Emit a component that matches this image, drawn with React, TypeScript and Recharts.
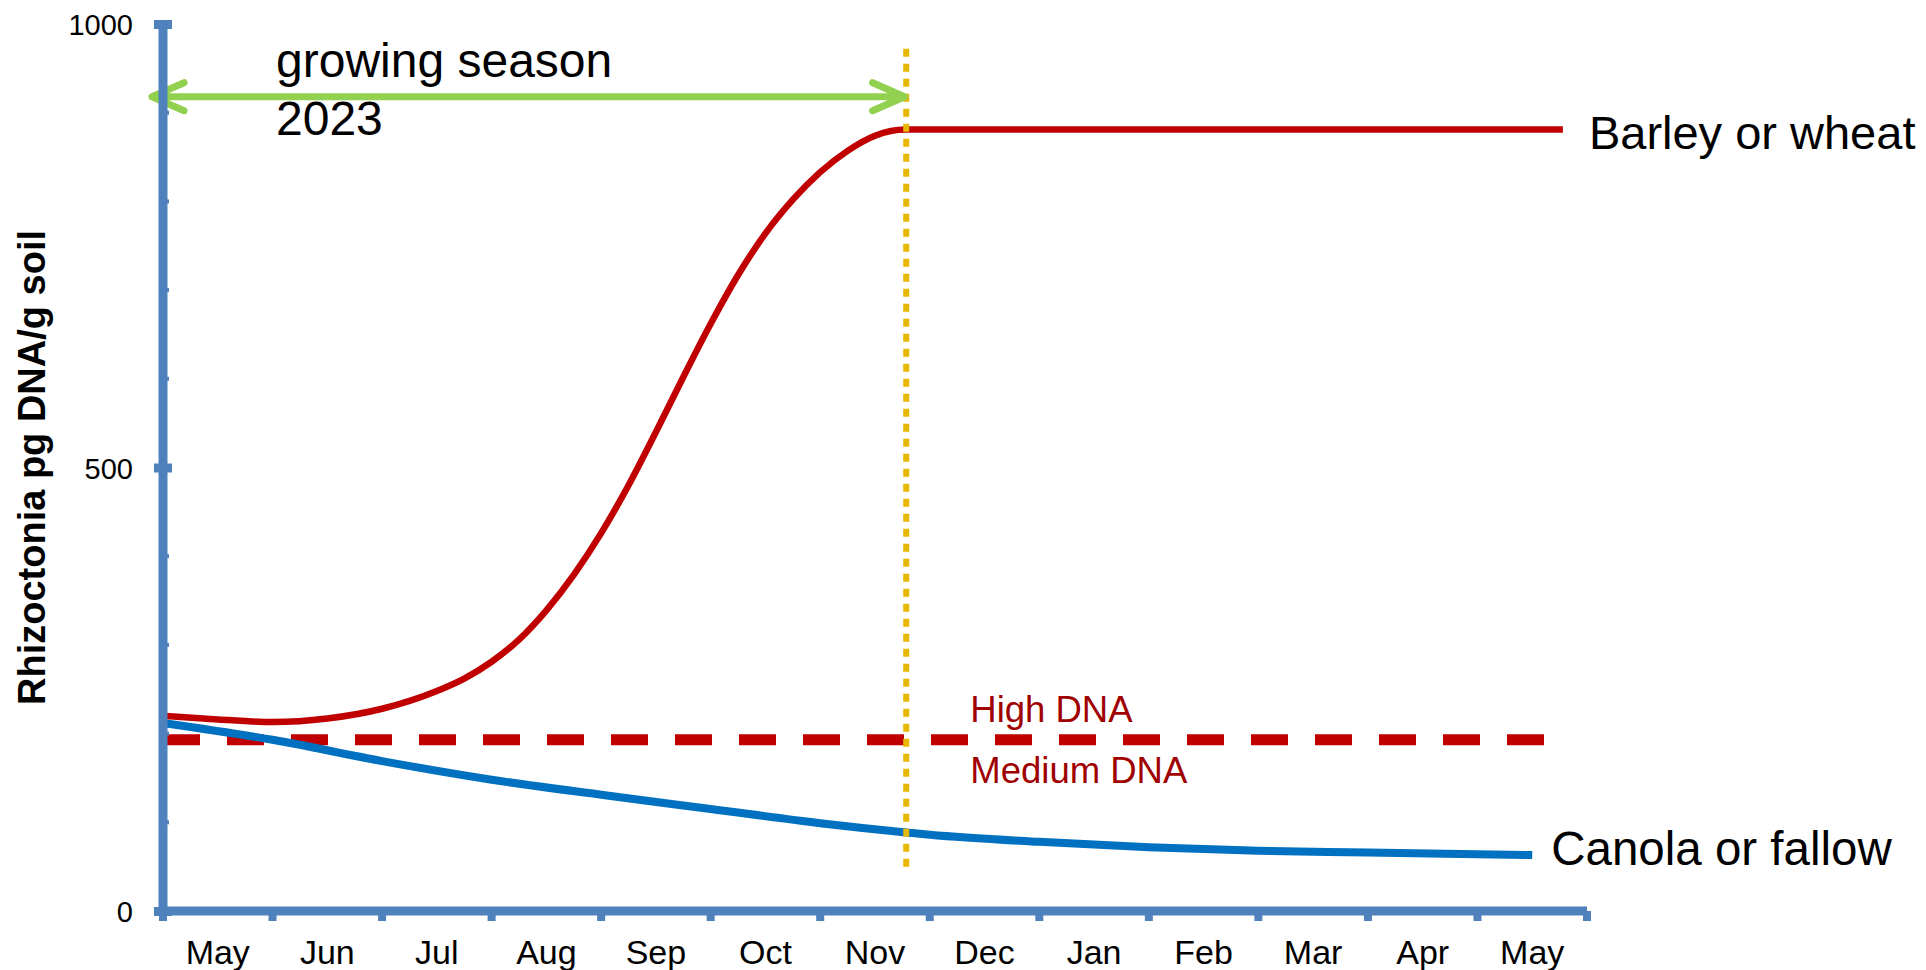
import React from "react";
import {
  LineChart,
  Line,
  XAxis,
  YAxis,
  ReferenceLine,
  ReferenceDot,
  Label,
} from "recharts";

// month labels along the bottom (one label per month band)
const months = ["May", "Jun", "Jul", "Aug", "Sep", "Oct", "Nov", "Dec", "Jan", "Feb", "Mar", "Apr", "May"];

// Barley or wheat – position in months from the start of May, pg DNA/g soil
const barleyX = [0, 0.5, 1, 1.5, 2, 2.5, 2.75, 3, 3.25, 3.5, 3.75, 4, 4.25, 4.5, 4.75, 5, 5.25, 5.5, 5.75, 6, 6.25, 6.5, 6.78, 12.78];
const barleyY = [220, 216, 213, 217, 228, 248, 262, 281, 306, 339, 379, 426, 480, 540, 602, 662, 717, 764, 802, 833, 857, 874, 881, 881];

// Canola or fallow
const canolaX = [0, 1, 2, 3, 4, 5, 6, 6.83, 7, 8, 9, 10, 11, 12.5];
const canolaY = [212, 193, 169, 148, 131, 115, 99, 88, 86, 78, 72, 68, 66, 63];

// High / Medium DNA threshold
const thresholdX = [0, 12.62];
const thresholdY = [193, 193];

// growing season 2023 (arrow) and end-of-season marker
const seasonStart = -0.1;
const seasonEnd = 6.77;
const seasonLevel = 918;
const harvestX = 6.785;
const harvestFrom = 50;
const harvestTo = 972;

const yTicks = [0, 100, 200, 300, 400, 500, 600, 700, 800, 900, 1000];
const yLabelled = [0, 500, 1000];

const xTicks = months.flatMap((_, i) => [i, i + 0.5]).concat(months.length);

const toPoints = (xs: number[], ys: number[]) => xs.map((x, i) => ({ x, y: ys[i] }));
const barley = toPoints(barleyX, barleyY);
const canola = toPoints(canolaX, canolaY);
const threshold = toPoints(thresholdX, thresholdY);

const FONT = "'Liberation Sans', Arial, sans-serif";
const AXIS = "#4F81BD";
const RED = "#C00000";
const DARK_RED = "#A00000";
const BLUE = "#0070C0";
const GREEN = "#92D050";
const YELLOW = "#E6B800";

const XTick = (props: any) => {
  const { x, y, payload } = props;
  const v = payload.value;
  if (Number.isInteger(v)) {
    return <rect x={x - 4} y={y} width={8} height={10} fill={AXIS} />;
  }
  return (
    <text x={x} y={y + 53} textAnchor="middle" fontSize={34} fontFamily={FONT} fill="#000">
      {months[Math.floor(v)]}
    </text>
  );
};

const YTick = (props: any) => {
  const { x, y, payload } = props;
  const v = payload.value;
  const major = yLabelled.includes(v);
  return (
    <g>
      {major ? (
        <rect x={x - 9} y={y - 4} width={18} height={9} fill={AXIS} />
      ) : (
        <rect x={x} y={y - 2} width={6} height={4} fill={AXIS} />
      )}
      {major && (
        <text x={x - 30} y={y + 11} textAnchor="end" fontSize={29} fontFamily={FONT} fill="#000">
          {v}
        </text>
      )}
    </g>
  );
};

const YTitle = (props: any) => {
  const vb = props.viewBox || { x: 63, y: 24, width: 100, height: 887 };
  const cx = vb.x - 18;
  const cy = vb.y + vb.height / 2;
  return (
    <text
      x={cx}
      y={cy}
      transform={`rotate(-90, ${cx}, ${cy})`}
      textAnchor="middle"
      fontSize={38}
      fontWeight="bold"
      fontFamily={FONT}
      fill="#000"
    >
      Rhizoctonia pg DNA/g soil
    </text>
  );
};

const SeasonArrow = (props: any) => {
  const { x1, y1, x2, y2 } = props;
  return (
    <g>
      <path
        d={`M${x1},${y1} L${x2},${y2} M${x1 + 32},${y1 - 14} L${x1},${y1} L${x1 + 32},${y1 + 14} M${x2 - 32},${y2 - 14} L${x2},${y2} L${x2 - 32},${y2 + 14}`}
        stroke={GREEN}
        strokeWidth={7}
        strokeLinecap="round"
        strokeLinejoin="round"
        fill="none"
      />
      <text x={x1 + 124} y={y1 - 20} fontSize={48} fontFamily={FONT} fill="#000">
        growing season
      </text>
      <text x={x1 + 124} y={y1 + 38} fontSize={48} fontFamily={FONT} fill="#000">
        2023
      </text>
    </g>
  );
};

export default function App() {
  return (
    <div style={{ position: "absolute", left: 0, top: 0, background: "#fff" }}>
      <LineChart
        width={1926}
        height={970}
        margin={{ top: 24, right: 339, bottom: 9, left: 63 }}
      >
        <XAxis
          type="number"
          dataKey="x"
          domain={[0, 13]}
          ticks={xTicks}
          interval={0}
          height={50}
          tickSize={0}
          tickMargin={0}
          tickLine={false}
          axisLine={{ stroke: AXIS, strokeWidth: 9 }}
          tick={<XTick />}
        />
        <YAxis
          type="number"
          domain={[0, 1000]}
          ticks={yTicks}
          interval={0}
          width={100}
          tickSize={0}
          tickMargin={0}
          tickLine={false}
          axisLine={{ stroke: AXIS, strokeWidth: 9 }}
          tick={<YTick />}
        >
          <Label content={<YTitle />} />
        </YAxis>

        <Line
          data={threshold}
          dataKey="y"
          type="linear"
          stroke={RED}
          strokeWidth={11}
          strokeDasharray="37 27"
          dot={false}
          activeDot={false}
          isAnimationActive={false}
        />
        <Line
          data={canola}
          dataKey="y"
          type="monotone"
          stroke={BLUE}
          strokeWidth={8}
          dot={false}
          activeDot={false}
          isAnimationActive={false}
        />
        <Line
          data={barley}
          dataKey="y"
          type="monotone"
          stroke={RED}
          strokeWidth={6.5}
          dot={false}
          activeDot={false}
          isAnimationActive={false}
        />

        <ReferenceLine
          segment={[
            { x: harvestX, y: harvestFrom },
            { x: harvestX, y: harvestTo },
          ]}
          stroke={YELLOW}
          strokeWidth={6}
          strokeDasharray="8 7"
          ifOverflow="visible"
        />
        <ReferenceLine
          segment={[
            { x: seasonStart, y: seasonLevel },
            { x: seasonEnd, y: seasonLevel },
          ]}
          ifOverflow="visible"
          shape={<SeasonArrow />}
        />

        <ReferenceDot
          x={barleyX[barleyX.length - 1]}
          y={barleyY[barleyY.length - 1]}
          r={0}
          ifOverflow="visible"
          shape={(p: any) => (
            <text x={p.cx + 26} y={p.cy + 19} fontSize={47} fontFamily={FONT} fill="#000">
              Barley or wheat
            </text>
          )}
        />
        <ReferenceDot
          x={canolaX[canolaX.length - 1]}
          y={canolaY[canolaY.length - 1]}
          r={0}
          ifOverflow="visible"
          shape={(p: any) => (
            <text x={p.cx + 19} y={p.cy + 10} fontSize={47.5} fontFamily={FONT} fill="#000">
              Canola or fallow
            </text>
          )}
        />
        <ReferenceDot
          x={7.37}
          y={thresholdY[0]}
          r={0}
          ifOverflow="visible"
          shape={(p: any) => (
            <g>
              <text x={p.cx} y={p.cy - 18} fontSize={36.5} fontFamily={FONT} fill={DARK_RED}>
                High DNA
              </text>
              <text x={p.cx} y={p.cy + 43} fontSize={36.5} fontFamily={FONT} fill={DARK_RED}>
                Medium DNA
              </text>
            </g>
          )}
        />
      </LineChart>
    </div>
  );
}
